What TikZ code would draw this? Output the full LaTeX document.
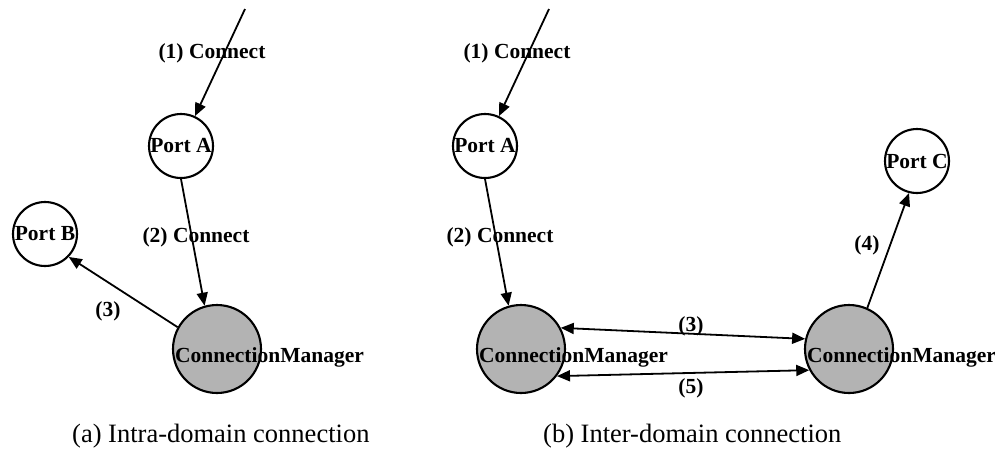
\documentclass[tikz,border=0pt]{standalone}
\usepackage{fontspec}
\setmainfont{Liberation Serif}
\usetikzlibrary{arrows.meta}
\definecolor{mgrfill}{RGB}{179,179,179}
\tikzset{
  lblfont/.style={font=\bfseries\fontsize{21.5}{24}\selectfont},
  port/.style={circle, draw, line width=2.1pt, minimum size=64pt, inner sep=0pt, lblfont},
  mgr/.style={circle, draw, line width=2.1pt, fill=mgrfill, minimum size=88pt, inner sep=0pt},
  mgrtext/.style={anchor=base west, inner sep=0pt, lblfont},
  lbl/.style={anchor=base, inner sep=0pt, lblfont},
  captext/.style={anchor=base west, inner sep=0pt, font=\fontsize{26.5}{30}\selectfont},
  myhead/.tip={Triangle[length=13pt,width=11pt]},
  link/.style={line width=1.8pt, -myhead},
  dlink/.style={line width=1.8pt, myhead-myhead},
}
\begin{document}
\begin{tikzpicture}[x=1pt, y=-1pt]
  \useasboundingbox (0,0) rectangle (995,451);

  % ---- (a) intra-domain ----
  \coordinate (inA) at (245,9);
  \node[port] (pa) at (181,146) {Port A};
  \node[port] (pb) at (45,234) {Port B};
  \node[mgr]  (cm) at (217,349) {};
  \node[mgrtext] (cmt) at (175,362) {ConnectionManager};

  \draw[link] (inA) -- (pa);
  \draw[link] (pa.-90) -- (cm.106);
  \draw[link] (cm.151) -- (pb.-44);

  \node[lbl] (l1a) at (212,58) {(1) Connect};
  \node[lbl] (l2a) at (196,242) {(2) Connect};
  \node[lbl] (l3a) at (108,316) {(3)};

  \node[captext] (capa) at (72,442) {(a) Intra-domain connection};

  % ---- (b) inter-domain ----
  \coordinate (inB) at (549,9);
  \node[port] (pa2) at (485,146) {Port A};
  \node[port] (pc)  at (917,161) {Port C};
  \node[mgr]  (cm1) at (521,349) {};
  \node[mgr]  (cm2) at (849,349) {};
  \node[mgrtext] (cm1t) at (479,362) {ConnectionManager};
  \node[mgrtext] (cm2t) at (807,362) {ConnectionManager};

  \draw[link] (inB) -- (pa2);
  \draw[link] (pa2.-90) -- (cm1.106);
  \draw[dlink] (cm1.28) -- (cm2.167);
  \draw[dlink] (cm1.-37) -- (cm2.-152);
  \draw[link] (cm2.66) -- (pc.-104);

  \node[lbl] (l1b) at (517,58) {(1) Connect};
  \node[lbl] (l2b) at (500,242) {(2) Connect};
  \node[lbl] (l3b) at (691,331) {(3)};
  \node[lbl] (l5b) at (691,393) {(5)};
  \node[lbl] (l4b) at (867,250) {(4)};

  \node[captext] (capb) at (543,442) {(b) Inter-domain connection};
\end{tikzpicture}
\end{document}
